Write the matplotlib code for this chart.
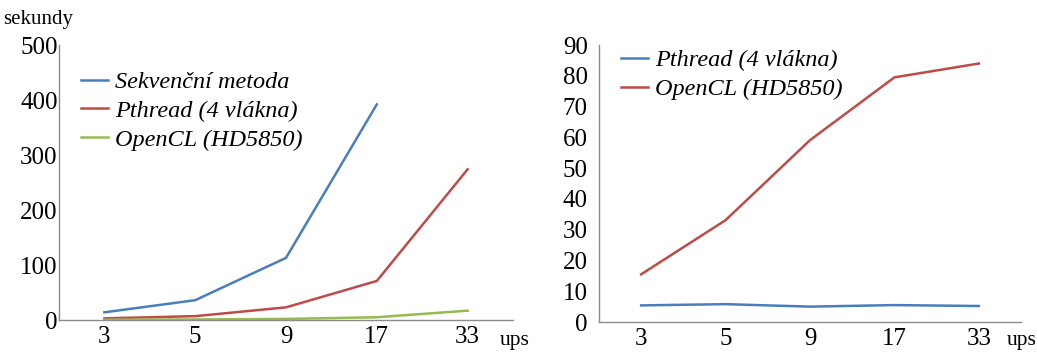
import matplotlib.pyplot as plt
import numpy as np

categories = ["3", "5", "9", "17", "33"]

# left chart: time in seconds
sekvencni = [14, 36, 113, 392, np.nan]
pthread_left = [3, 7, 23, 71, 274]
opencl_left = [0.5, 1, 2, 5, 17]

# right chart
pthread_right = [5.4, 5.8, 5.0, 5.5, 5.2]
opencl_right = [15.5, 33.1, 59.1, 79.5, 84.0]

BLUE = "#4a7ebb"
RED = "#be4b48"
GREEN = "#98b954"
AXIS = "#8c8c8c"

plt.rcParams["font.family"] = ["Liberation Serif", "DejaVu Serif"]


def style_axes(ax, ylim, yticks, ypad):
    x = np.arange(len(categories))
    ax.set_xlim(-0.5, len(categories) - 0.5)
    ax.set_ylim(*ylim)
    ax.set_yticks(yticks)
    ax.set_xticks(x)
    ax.set_xticklabels(categories)
    for side in ("top", "right"):
        ax.spines[side].set_visible(False)
    for side in ("left", "bottom"):
        ax.spines[side].set_color(AXIS)
        ax.spines[side].set_linewidth(1.0)
    ax.tick_params(length=0, labelsize=18)
    ax.tick_params(axis="y", pad=ypad)
    ax.tick_params(axis="x", pad=4)


def add_legend(ax, anchor):
    ax.legend(loc="upper left", bbox_to_anchor=anchor, frameon=False,
              prop={"style": "italic", "size": 17.5}, handlelength=1.1,
              handletextpad=0.3, labelspacing=0.28, borderpad=0,
              borderaxespad=0)


fig = plt.figure(figsize=(10.37, 3.52), dpi=100)
x = np.arange(len(categories))

ax1 = fig.add_axes([0.0569, 0.0909, 0.4378, 0.7812])
ax1.plot(x, sekvencni, color=BLUE, lw=1.8, label="Sekvenční metoda")
ax1.plot(x, pthread_left, color=RED, lw=1.8, label="Pthread (4 vlákna)")
ax1.plot(x, opencl_left, color=GREEN, lw=1.8, label="OpenCL (HD5850)")
style_axes(ax1, (0, 500), range(0, 501, 100), 1)
add_legend(ax1, (0.048, 0.905))
fig.text(0.003, 0.945, "sekundy", fontsize=15, va="center")
fig.text(0.482, 0.032, "ups", fontsize=15.5, va="center")

ax2 = fig.add_axes([0.5776, 0.0852, 0.407, 0.7868])
ax2.plot(x, pthread_right, color=BLUE, lw=1.8, label="Pthread (4 vlákna)")
ax2.plot(x, opencl_right, color=RED, lw=1.8, label="OpenCL (HD5850)")
style_axes(ax2, (0, 90), range(0, 91, 10), 8)
add_legend(ax2, (0.052, 0.985))
fig.text(0.971, 0.032, "ups", fontsize=15.5, va="center")

fig.savefig("out.png", dpi=100)
